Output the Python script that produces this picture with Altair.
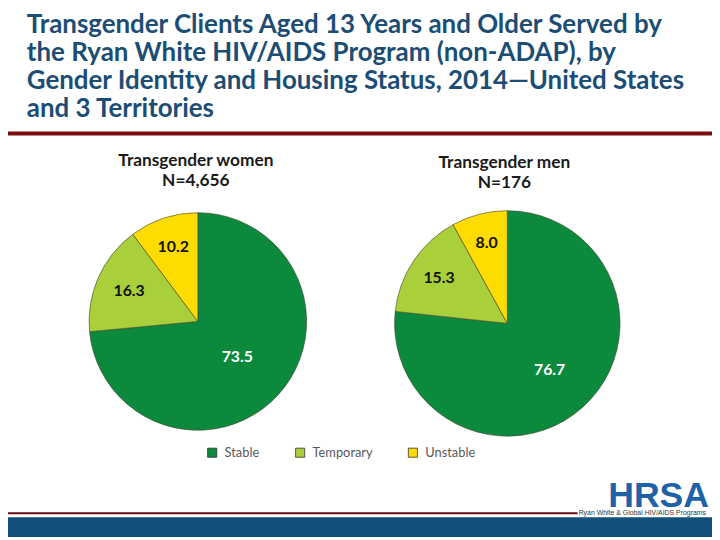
import altair as alt
import pandas as pd

title_lines = [
    "Transgender Clients Aged 13 Years and Older Served by",
    "the Ryan White HIV/AIDS Program (non-ADAP), by",
    "Gender Identity and Housing Status, 2014\u2014United States",
    "and 3 Territories",
]
groups = ["Transgender women", "Transgender men"]
group_n = ["N=4,656", "N=176"]
statuses = ["Stable", "Temporary", "Unstable"]
women_values = [73.5, 16.3, 10.2]
men_values = [76.7, 15.3, 8.0]
colors = ["#0b8a3e", "#a9cf3b", "#ffdc00"]

rows = []
for g, vals in zip(groups, [women_values, men_values]):
    for i, (s, v) in enumerate(zip(statuses, vals)):
        rows.append({"group": g, "status": s, "value": v, "idx": i})
df = pd.DataFrame(rows)

W, H = 712, 532

color_enc = alt.Color(
    "status:N",
    scale=alt.Scale(domain=statuses, range=colors),
    legend=alt.Legend(
        title=None, orient="none", legendX=200, legendY=440, direction="horizontal",
        symbolType="square", symbolSize=85, symbolStrokeColor="#333333", symbolStrokeWidth=0.8,
        labelFont="Lato", labelFontSize=13, labelColor="#595959", labelOffset=6,
        columnPadding=34,
    ),
)

theta_scale = alt.Scale(domain=[0, 100])
base = alt.Chart(df)


def pie(group, cx, cy, r, label_r_expr):
    sub = base.transform_filter(alt.datum.group == group)
    arcs = sub.mark_arc(outerRadius=r, stroke="#3d3d2a", strokeWidth=0.6).encode(
        theta=alt.Theta("value:Q", stack=True, scale=theta_scale),
        color=color_enc,
        order=alt.Order("idx:Q"),
        x=alt.value(cx),
        y=alt.value(cy),
    )
    labels = sub.transform_window(
        cum="sum(value)", sort=[alt.SortField("idx")], frame=[None, 0]
    ).transform_calculate(
        mid="datum.cum - datum.value / 2", lr=label_r_expr
    ).mark_text(font="Lato", fontSize=16, fontWeight="bold").encode(
        theta=alt.Theta("mid:Q", stack=None, scale=theta_scale),
        radius=alt.Radius("lr:Q", scale=None),
        text=alt.Text("value:Q", format=".1f"),
        color=alt.condition(alt.datum.status == "Stable", alt.value("white"), alt.value("#111111")),
        x=alt.value(cx),
        y=alt.value(cy),
    )
    return arcs + labels


women = pie(groups[0], 192, 314, 110,
            "datum.status == 'Stable' ? 54 : datum.status == 'Temporary' ? 76 : 79")
men = pie(groups[1], 505, 316, 114,
          "datum.status == 'Stable' ? 64 : datum.status == 'Temporary' ? 83 : 84")

deco = alt.Chart(pd.DataFrame({"k": [0]}))

title = deco.mark_text(
    text=title_lines, font="Lato", fontSize=26.2, fontWeight="bold", color="#1c4d74",
    align="left", baseline="alphabetic", lineHeight=28.5,
).encode(x=alt.value(19), y=alt.value(22))

sub_w = deco.mark_text(
    text=[groups[0], group_n[0]], font="Lato", fontSize=17.5, fontWeight="bold", color="#1a1a1a",
    align="center", baseline="alphabetic", lineHeight=20.5,
).encode(x=alt.value(190), y=alt.value(157))

sub_m = deco.mark_text(
    text=[groups[1], group_n[1]], font="Lato", fontSize=17.5, fontWeight="bold", color="#1a1a1a",
    align="center", baseline="alphabetic", lineHeight=20.5,
).encode(x=alt.value(502), y=alt.value(159))

top_rule = deco.mark_rule(color="#7b0c10", strokeWidth=4).encode(
    x=alt.value(0), x2=alt.value(W), y=alt.value(124)
)
low_rule = deco.mark_rule(color="#6b0d10", strokeWidth=2).encode(
    x=alt.value(0), x2=alt.value(576), y=alt.value(508)
)
bar = deco.mark_rect(color="#124f7b").encode(
    x=alt.value(0), x2=alt.value(W), y=alt.value(512), y2=alt.value(H)
)
hrsa = deco.mark_text(
    text="HRSA", font="Liberation Sans", fontSize=36, fontWeight="bold", color="#1f62a8",
    align="right", baseline="alphabetic",
).encode(x=alt.value(709), y=alt.value(502))
hrsa_sub = deco.mark_text(
    text="Ryan White & Global HIV/AIDS Programs", font="Liberation Sans", fontSize=7,
    color="#333333", align="right", baseline="alphabetic",
).encode(x=alt.value(706), y=alt.value(510))

chart = alt.layer(
    women, men, title, sub_w, sub_m, top_rule, low_rule, bar, hrsa, hrsa_sub
).properties(
    width=W, height=H, autosize=alt.AutoSizeParams(type="none"), padding=0,
    background="white",
).configure_view(stroke=None)

chart.save("out.html", embed_options={"renderer": "svg", "actions": False})
